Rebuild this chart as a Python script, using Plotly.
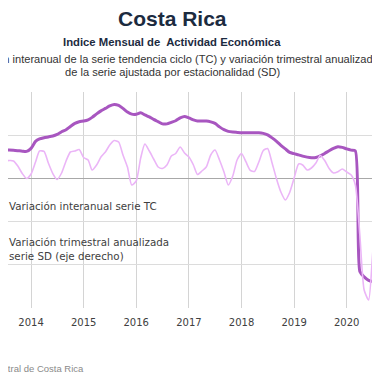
import plotly.graph_objects as go

months = [
    "2013-04-01", "2013-05-01", "2013-06-01", "2013-07-01", "2013-08-01", "2013-09-01",
    "2013-10-01", "2013-11-01", "2013-12-01",
    "2014-01-01", "2014-02-01", "2014-03-01", "2014-04-01", "2014-05-01", "2014-06-01",
    "2014-07-01", "2014-08-01", "2014-09-01", "2014-10-01", "2014-11-01", "2014-12-01",
    "2015-01-01", "2015-02-01", "2015-03-01", "2015-04-01", "2015-05-01", "2015-06-01",
    "2015-07-01", "2015-08-01", "2015-09-01", "2015-10-01", "2015-11-01", "2015-12-01",
    "2016-01-01", "2016-02-01", "2016-03-01", "2016-04-01", "2016-05-01", "2016-06-01",
    "2016-07-01", "2016-08-01", "2016-09-01", "2016-10-01", "2016-11-01", "2016-12-01",
    "2017-01-01", "2017-02-01", "2017-03-01", "2017-04-01", "2017-05-01", "2017-06-01",
    "2017-07-01", "2017-08-01", "2017-09-01", "2017-10-01", "2017-11-01", "2017-12-01",
    "2018-01-01", "2018-02-01", "2018-03-01", "2018-04-01", "2018-05-01", "2018-06-01",
    "2018-07-01", "2018-08-01", "2018-09-01", "2018-10-01", "2018-11-01", "2018-12-01",
    "2019-01-01", "2019-02-01", "2019-03-01", "2019-04-01", "2019-05-01", "2019-06-01",
    "2019-07-01", "2019-08-01", "2019-09-01", "2019-10-01", "2019-11-01", "2019-12-01",
    "2020-01-01", "2020-02-01", "2020-03-01", "2020-04-01", "2020-05-01", "2020-06-01",
    "2020-07-01", "2020-08-01", "2020-09-01",
]

tc_interanual = [
    2.59, 2.59, 2.59, 2.61, 2.62, 2.61, 2.57, 2.52, 2.50,
    2.78, 3.43, 3.66, 3.77, 3.84, 3.92, 4.07, 4.32, 4.51, 4.81, 5.09, 5.25,
    5.31, 5.42, 5.65, 5.97, 6.25, 6.48, 6.71, 6.85, 6.76, 6.48, 6.14, 5.95,
    5.94, 6.08, 5.88, 5.69, 5.46, 5.25, 5.05, 5.05, 5.19, 5.34, 5.60, 5.74,
    5.60, 5.42, 5.31, 5.32, 5.31, 5.23, 5.09, 4.77, 4.51, 4.35, 4.29, 4.26,
    4.23, 4.23, 4.23, 4.23, 4.23, 4.17, 4.03, 3.75, 3.43, 3.06, 2.73, 2.41,
    2.29, 2.18, 2.06, 1.97, 1.92, 1.94, 2.08, 2.31, 2.56, 2.78, 2.94, 2.87,
    2.73, 2.62, 2.55, -8.61, -9.12, -9.44, -9.54, -9.49, -9.35,
]

sd_trimestral = [
    -0.37, 0.56, 2.06, 3.80, 4.14, 4.03, 2.87, 1.13, -0.02,
    1.02, 3.80, 6.34, 6.23, 3.56, 1.13, -0.25, 1.25, 4.03, 6.11, 6.34, 6.69,
    4.84, 4.26, 1.94, 3.10, 4.95, 6.11, 7.73, 8.77, 8.43, 5.42, 2.64, -1.53,
    -0.60, 4.72, 7.96, 6.34, 4.49, 2.64, 2.29, 3.10, 5.19, 5.76, 7.27, 5.88,
    4.95, 3.10, 0.90, 1.71, 2.64, 5.42, 6.57, 4.26, 1.48, -1.53, 0.56, 4.26,
    5.76, 3.80, 1.94, 1.60, 3.80, 6.46, 6.92, 3.56, -0.14, -3.15, -5.00, -3.26,
    0.09, 3.33, 3.10, 1.94, 2.41, 3.56, 5.30, 4.14, 2.29, 1.25, 1.55, 2.18,
    1.48, 0.79, -1.53, -13.10, -25.83, -28.15, -16.57, -6.16, 4.26,
]

year_ticks = ["2014-01-01", "2015-01-01", "2016-01-01", "2017-01-01",
              "2018-01-01", "2019-01-01", "2020-01-01"]
year_labels = ["2014", "2015", "2016", "2017", "2018", "2019", "2020"]

left_ticks = [-12, -8, -4, 0, 4, 8]

# The page body adds an 8px margin, so layout positions are given in
# window pixels and shifted by this amount.
OFF = 8
W = 380
plot_left, plot_right = 0, W - OFF          # figure pixels
plot_top, plot_bottom = 92 - OFF, 308 - OFF  # figure pixels
pw = plot_right - plot_left
ph = plot_bottom - plot_top


def px(sx):
    return (sx - OFF - plot_left) / pw


def py(sy):
    return (plot_bottom - (sy - OFF)) / ph


fig = go.Figure()

fig.add_trace(go.Scatter(
    x=months, y=tc_interanual, mode="lines",
    name="Variación interanual serie TC",
    line=dict(color="#a856c0", width=3, shape="spline", smoothing=0.6),
    legendgroup="a",
))
fig.add_trace(go.Scatter(
    x=months, y=sd_trimestral, mode="lines", yaxis="y2",
    name="Variación trimestral anualizada<br>serie SD (eje derecho)",
    line=dict(color="#ebb5f7", width=1.6, shape="spline", smoothing=0.6),
    legendgroup="b",
))

fig.update_layout(
    width=W, height=380,
    margin=dict(l=plot_left, r=W - plot_right, t=plot_top, b=380 - plot_bottom,
                autoexpand=False),
    paper_bgcolor="white", plot_bgcolor="white",
    showlegend=True,
    legend=dict(
        x=(9 - OFF - 40) / pw, y=py(191), xanchor="left", yanchor="top",
        bgcolor="rgba(0,0,0,0)",
        font=dict(family="DejaVu Sans", size=10.3, color="#404040"),
        tracegroupgap=19,
        itemwidth=30,
    ),
    xaxis=dict(
        type="date",
        range=["2013-07-25", "2020-08-19"],
        tickvals=year_ticks, ticktext=year_labels,
        showgrid=True, gridcolor="#d4d4d4", gridwidth=1,
        showline=False, zeroline=False,
        ticks="", ticklabelstandoff=7,
        tickfont=dict(family="DejaVu Sans", size=10, color="#404040"),
    ),
    yaxis=dict(
        range=[-12, 8], tickvals=left_ticks,
        showgrid=True, gridcolor="#dcdcdc", gridwidth=1,
        zeroline=True, zerolinecolor="#a8a8a8", zerolinewidth=1,
        showticklabels=False, showline=False,
    ),
    yaxis2=dict(
        range=[-30, 20], overlaying="y", side="right",
        showgrid=False, zeroline=False, showticklabels=False, showline=False,
    ),
    annotations=[
        dict(text="<b>Costa Rica</b>", x=px(172), y=py(18), xref="paper", yref="paper",
             showarrow=False, xanchor="center", yanchor="middle",
             font=dict(family="Liberation Sans", size=21, color="#1c2b3f")),
        dict(text="<b>Indice Mensual de  Actividad Económica</b>", x=px(172), y=py(42),
             xref="paper", yref="paper", showarrow=False,
             xanchor="center", yanchor="middle",
             font=dict(family="Liberation Sans", size=11.3, color="#1c2b3f")),
        dict(text="Variación interanual de la serie tendencia ciclo (TC) y variación trimestral anualizada",
             x=px(172), y=py(59), xref="paper", yref="paper", showarrow=False,
             xanchor="center", yanchor="middle",
             font=dict(family="Liberation Sans", size=11.1, color="#333333")),
        dict(text="de la serie ajustada por estacionalidad (SD)",
             x=px(172), y=py(72), xref="paper", yref="paper", showarrow=False,
             xanchor="center", yanchor="middle",
             font=dict(family="Liberation Sans", size=11.1, color="#333333")),
        dict(text="Fuente: Banco Central de Costa Rica",
             x=px(86), y=py(368), xref="paper", yref="paper", showarrow=False,
             xanchor="right", yanchor="middle",
             font=dict(family="Liberation Sans", size=9.5, color="#8a8a8a")),
    ],
)

fig.write_html("out.html")
